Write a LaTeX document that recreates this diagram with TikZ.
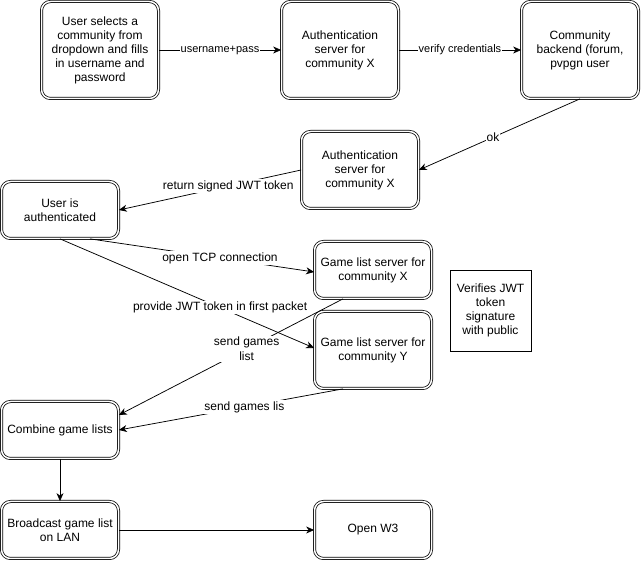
\documentclass[tikz,border=0pt]{standalone}
\usepackage{fontspec}
\setmainfont{Liberation Sans}
\usetikzlibrary{arrows.meta}
\begin{document}
\begin{tikzpicture}[x=1pt,y=-1pt,
 dbox/.style={draw, double, double distance=1.5pt, line width=0.75pt, rounded corners=9pt, minimum width=117pt, minimum height=#1, inner sep=0pt, align=center, font=\fontsize{12}{14}\selectfont},
 pbox/.style={draw, line width=0.9pt, minimum width=81pt, minimum height=81pt, inner sep=0pt, align=center, font=\fontsize{12}{14}\selectfont},
 lbl/.style={fill=white, inner sep=1pt, font=\fontsize{12}{15}\selectfont, align=center},
 slbl/.style={fill=white, inner sep=1pt, font=\fontsize{11}{13}\selectfont, align=center},
 conn/.style={line width=0.75pt, -{Stealth[length=8pt,width=7pt,inset=2.5pt]}}
]
\useasboundingbox (0,0) rectangle (641,561);
\node[dbox=97pt] (b1) at (100,50) {User selects a\\community from\\dropdown and fills\\in username and\\password};
\node[dbox=97pt] (b2) at (340,50) {Authentication\\server for\\community X};
\node[dbox=97pt] (b3) at (580,50) {Community\\backend (forum,\\pvpgn user};
\node[dbox=77pt] (b4) at (360,170) {Authentication\\server for\\community X};
\node[dbox=57pt] (b5) at (60,210) {User is\\authenticated};
\node[dbox=57pt] (b6) at (373,270) {Game list server for\\community X};
\node[dbox=77pt] (b7) at (373,350) {Game list server for\\community Y};
\node[pbox] (b8) at (490.5,310.5) {Verifies JWT\\token\\signature\\with public};
\node[dbox=57pt] (b9) at (60,430) {Combine game lists};
\node[dbox=57pt] (b10) at (60,530) {Broadcast game list\\on LAN};
\node[dbox=57pt] (b11) at (373,530) {Open W3};

\draw[conn] (b1) -- node[slbl] {username+pass} (b2);
\draw[conn] (b2) -- node[slbl] {verify credentials} (b3);
\draw[conn] (b3.south) -- node[lbl, pos=0.54] {ok} (b4.east);
\draw[conn] (b4.west) -- node[lbl, pos=0.4] {return signed JWT token} (b5.east);
\draw[conn] ([xshift=30pt]b5.south) -- node[lbl, pos=0.58] {open TCP connection} ([yshift=-2pt]b6.west);
\draw[conn] (b5.south) -- node[lbl, pos=0.63] {provide JWT token in first packet} ([yshift=2pt]b7.west);
\draw[conn] ([xshift=-30pt]b6.south) -- node[lbl, pos=0.43] {send games\\list} ([yshift=15pt]b9.east);
\draw[conn] ([xshift=-30pt]b7.south) -- node[lbl, pos=0.44] {send games lis} (b9.east);
\draw[conn] (b9) -- (b10);
\draw[conn] (b10) -- (b11);
\end{tikzpicture}
\end{document}
